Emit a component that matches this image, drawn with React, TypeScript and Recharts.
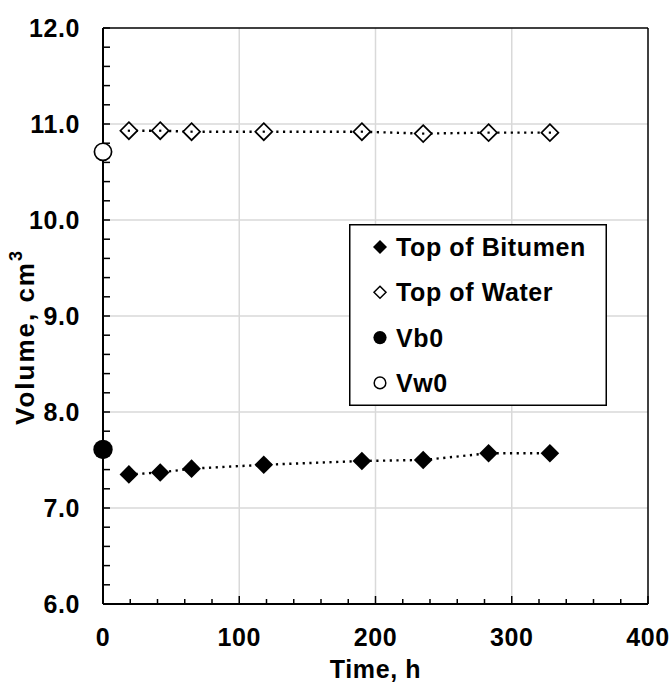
import React from 'react';
import { ScatterChart, Scatter, XAxis, YAxis, CartesianGrid, ReferenceLine, Legend } from 'recharts';

// ---- data ----
const times = [19, 42, 65, 118, 190, 235, 283, 328];
const bitumenVolumes = [7.35, 7.37, 7.41, 7.45, 7.49, 7.5, 7.57, 7.57];
const waterVolumes = [10.93, 10.93, 10.92, 10.92, 10.92, 10.9, 10.91, 10.91];
const initialTimes = [0];
const vb0Volumes = [7.61];
const vw0Volumes = [10.71];

const seriesNames = ['Top of Bitumen', 'Top of Water', 'Vb0', 'Vw0'];
const xAxisTitle = 'Time, h';
const yAxisTitleBase = 'Volume, cm';
const yAxisTitleSup = '3';

const xMajorTicks = [0, 100, 200, 300, 400];
const yMajorTicks = [6, 7, 8, 9, 10, 11, 12];
const xGridValues = [100, 200, 300];
const yGridValues = [7, 8, 9, 10, 11];
const xMinorStep = 20;
const yMinorStep = 0.2;

// ---- derived tables ----
const bitumenData = times.map((t, i) => ({ time: t, volume: bitumenVolumes[i] }));
const waterData = times.map((t, i) => ({ time: t, volume: waterVolumes[i] }));
const vb0Data = initialTimes.map((t, i) => ({ time: t, volume: vb0Volumes[i] }));
const vw0Data = initialTimes.map((t, i) => ({ time: t, volume: vw0Volumes[i] }));

const xTicks: number[] = [];
for (let v = xMajorTicks[0]; v <= xMajorTicks[xMajorTicks.length - 1] + 1e-9; v += xMinorStep) xTicks.push(Math.round(v * 1000) / 1000);
const yTicks: number[] = [];
for (let k = 0; k <= Math.round((yMajorTicks[yMajorTicks.length - 1] - yMajorTicks[0]) / yMinorStep); k++)
  yTicks.push(Math.round((yMajorTicks[0] + k * yMinorStep) * 1000) / 1000);

const FONT = '"Liberation Sans", Arial, Helvetica, sans-serif';
const FS = 25;
const LS = 0.6;

const isMajor = (v: number, list: number[]) => list.some((m) => Math.abs(m - v) < 1e-6);

const textStyle = { letterSpacing: LS } as React.CSSProperties;

const YTick = (props: any) => {
  const { x, y, payload } = props;
  const v = payload.value as number;
  const major = isMajor(v, yMajorTicks);
  return (
    <g>
      <line x1={x} x2={x + 7} y1={y} y2={y} stroke="#000" strokeWidth={1.5} />
      {major && (
        <text x={x - 23} y={y} textAnchor="end" dominantBaseline="central" fontFamily={FONT} fontWeight="bold" fontSize={FS} fill="#000" style={textStyle}>
          {v.toFixed(1)}
        </text>
      )}
    </g>
  );
};

const XTick = (props: any) => {
  const { x, y, payload } = props;
  const v = payload.value as number;
  const major = isMajor(v, xMajorTicks);
  return (
    <g>
      <line x1={x} x2={x} y1={y} y2={y - (major ? 8 : 5)} stroke="#000" strokeWidth={1.5} />
      {major && (
        <text x={x} y={y + 33} textAnchor="middle" dominantBaseline="central" fontFamily={FONT} fontWeight="bold" fontSize={FS} fill="#000" style={textStyle}>
          {v}
        </text>
      )}
    </g>
  );
};

const diamondPts = (cx: number, cy: number, r: number) => `${cx},${cy - r} ${cx + r},${cy} ${cx},${cy + r} ${cx - r},${cy}`;

const FilledDiamond = (p: any) => <polygon points={diamondPts(p.cx, p.cy, 9.3)} fill="#000" />;
const OpenDiamond = (p: any) => (
  <g>
    <polygon points={diamondPts(p.cx, p.cy, 8.5)} fill="#fff" stroke="#000" strokeWidth={1.7} />
    <rect x={p.cx - 1.1} y={p.cy - 1.1} width={2.2} height={2.2} fill="#000" />
  </g>
);
const FilledCircle = (p: any) => <circle cx={p.cx} cy={p.cy} r={9.7} fill="#000" />;
const OpenCircle = (p: any) => <circle cx={p.cx} cy={p.cy} r={8.6} fill="#fff" stroke="#000" strokeWidth={1.7} />;

const legendMarkers = [
  (cx: number, cy: number) => <polygon points={diamondPts(cx, cy, 7)} fill="#000" />,
  (cx: number, cy: number) => <polygon points={diamondPts(cx, cy, 6)} fill="#fff" stroke="#000" strokeWidth={1.5} />,
  (cx: number, cy: number) => <circle cx={cx} cy={cy} r={6.6} fill="#000" />,
  (cx: number, cy: number) => <circle cx={cx} cy={cy} r={5.8} fill="#fff" stroke="#000" strokeWidth={1.5} />,
];

const LegendBox = () => (
  <svg width={258} height={182} style={{ display: 'block' }}>
    <rect x={0.75} y={0.75} width={256.5} height={180.5} fill="#fff" stroke="#000" strokeWidth={1.5} />
    {seriesNames.map((name, i) => {
      const cy = 23 + 45.3 * i;
      return (
        <g key={name}>
          {legendMarkers[i](31, cy)}
          <text x={47} y={cy} dominantBaseline="central" fontFamily={FONT} fontWeight="bold" fontSize={FS} fill="#000" style={textStyle}>
            {name}
          </text>
        </g>
      );
    })}
  </svg>
);

const XTitle = (props: any) => {
  const vb = props.viewBox || {};
  return (
    <text x={vb.x + vb.width / 2} y={vb.y + 65} textAnchor="middle" dominantBaseline="central" fontFamily={FONT} fontWeight="bold" fontSize={FS} fill="#000" style={textStyle}>
      {xAxisTitle}
    </text>
  );
};

const YTitle = (props: any) => {
  const vb = props.viewBox || {};
  const cx = vb.x + 2;
  const cy = vb.y + vb.height / 2 + 21;
  return (
    <text x={cx} y={cy} transform={`rotate(-90, ${cx}, ${cy})`} textAnchor="middle" dominantBaseline="central" fontFamily={FONT} fontWeight="bold" fontSize={26} fill="#000" style={{ letterSpacing: 2 }}>
      {yAxisTitleBase}
      <tspan fontSize={18} dy={-9}>{yAxisTitleSup}</tspan>
    </text>
  );
};

const dotted = { stroke: '#000', strokeWidth: 2.4, strokeDasharray: '2.2 4.5' };

export default function App() {
  return (
    <div style={{ position: 'fixed', left: 0, top: 0, width: 672, height: 683, background: '#fff' }}>
      <ScatterChart width={672} height={683} margin={{ top: 28, right: 24, bottom: 29, left: 23 }}>
        <CartesianGrid stroke="#d9d9d9" strokeWidth={1.5} horizontalValues={yGridValues} verticalValues={xGridValues} />
        <XAxis
          type="number"
          dataKey="time"
          domain={[0, 400]}
          ticks={xTicks}
          interval={0}
          tickSize={0}
          tickMargin={0}
          tickLine={false}
          tick={<XTick />}
          axisLine={{ stroke: '#000', strokeWidth: 2 }}
          height={50}
          label={<XTitle />}
        />
        <YAxis
          type="number"
          dataKey="volume"
          domain={[6, 12]}
          ticks={yTicks}
          interval={0}
          tickSize={0}
          tickMargin={0}
          tickLine={false}
          tick={<YTick />}
          axisLine={{ stroke: '#000', strokeWidth: 2 }}
          width={80}
          label={<YTitle />}
        />
        <ReferenceLine y={12} stroke="#000" strokeWidth={1.5} />
        <ReferenceLine x={400} stroke="#000" strokeWidth={1.5} />
        <Legend
          layout="vertical"
          align="center"
          verticalAlign="middle"
          content={() => <LegendBox />}
          wrapperStyle={{ position: 'absolute', left: 349, top: 224, width: 258, height: 182 }}
        />
        <Scatter name={seriesNames[0]} data={bitumenData} shape={(p: any) => <FilledDiamond {...p} />} line={dotted} isAnimationActive={false} />
        <Scatter name={seriesNames[1]} data={waterData} shape={(p: any) => <OpenDiamond {...p} />} line={dotted} isAnimationActive={false} />
        <Scatter name={seriesNames[2]} data={vb0Data} shape={(p: any) => <FilledCircle {...p} />} isAnimationActive={false} />
        <Scatter name={seriesNames[3]} data={vw0Data} shape={(p: any) => <OpenCircle {...p} />} isAnimationActive={false} />
      </ScatterChart>
    </div>
  );
}
